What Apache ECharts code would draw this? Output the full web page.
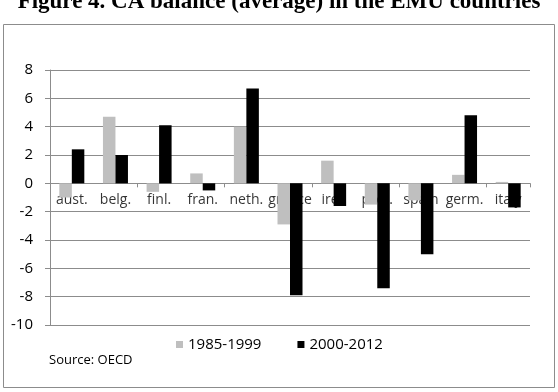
<!DOCTYPE html>
<html>
<head>
<meta charset="utf-8">
<script src="https://cdn.jsdelivr.net/npm/echarts@6/dist/echarts.min.js"></script>
<style>
  html, body { margin: 0; padding: 0; background: #fff; }
  #container { width: 558px; height: 392px; }
</style>
</head>
<body>
<div id="container"></div>
<script>
var countries = ['aust.', 'belg.', 'finl.', 'fran.', 'neth.', 'greece', 'irel.', 'port.', 'spain', 'germ.', 'italy'];
var early = [-1.0, 4.7, -0.6, 0.7, 4.0, -2.9, 1.6, -1.5, -1.2, 0.6, 0.1];
var late = [2.4, 2.0, 4.1, -0.5, 6.7, -7.9, -1.6, -7.4, -5.0, 4.8, -1.7];
var seriesNames = ['1985-1999', '2000-2012'];

var chartDom = document.getElementById('container');
var myChart = echarts.init(chartDom);

var labelFont = '"Open Sans", sans-serif';
var gridColor = '#8c8c8c';

// category labels sit on the zero line, under the bars
var zeroLine = countries.map(function () { return 0; });

var option = {
    animation: false,
    title: {
        text: 'Figure 4. CA balance (average) in the EMU countries',
        left: 'center',
        top: -14,
        textStyle: {
            fontFamily: '"Liberation Serif", serif',
            fontWeight: 'bold',
            fontSize: 23,
            color: '#000'
        }
    },
    graphic: [
        {
            type: 'rect',
            shape: { x: 3.5, y: 24.5, width: 551, height: 363 },
            style: { fill: 'none', stroke: gridColor, lineWidth: 1 },
            z: -1
        },
        {
            type: 'text',
            left: 49,
            top: 354,
            style: {
                text: 'Source: OECD',
                font: '13px ' + labelFont,
                fill: '#000'
            }
        }
    ],
    legend: {
        data: seriesNames,
        top: 332,
        left: 171,
        itemWidth: 7,
        itemHeight: 7,
        itemGap: 36,
        icon: 'rect',
        textStyle: {
            fontFamily: labelFont,
            fontSize: 15,
            color: '#000'
        }
    },
    grid: {
        left: 50,
        right: 28,
        top: 70,
        bottom: 67
    },
    xAxis: {
        type: 'category',
        data: countries,
        axisLine: {
            onZero: true,
            lineStyle: { color: gridColor }
        },
        axisTick: {
            show: true,
            length: 4,
            lineStyle: { color: gridColor }
        },
        axisLabel: { show: false }
    },
    yAxis: {
        type: 'value',
        min: -10,
        max: 8,
        interval: 2,
        axisLine: {
            show: true,
            lineStyle: { color: gridColor }
        },
        axisTick: {
            show: true,
            length: 5,
            lineStyle: { color: gridColor }
        },
        axisLabel: {
            margin: 17,
            fontFamily: labelFont,
            fontSize: 15,
            color: '#000'
        },
        splitLine: {
            lineStyle: { color: gridColor }
        }
    },
    series: [
        {
            name: 'labels',
            type: 'scatter',
            data: zeroLine,
            symbolSize: 0,
            z: 1,
            silent: true,
            label: {
                show: true,
                position: 'bottom',
                distance: 10,
                formatter: function (p) { return p.name; },
                fontFamily: labelFont,
                fontSize: 14,
                color: '#000'
            }
        },
        {
            name: seriesNames[0],
            type: 'bar',
            data: early,
            barWidth: 12.5,
            barGap: '0%',
            z: 3,
            itemStyle: { color: '#bfbfbf' }
        },
        {
            name: seriesNames[1],
            type: 'bar',
            data: late,
            barWidth: 12.5,
            barGap: '0%',
            z: 3,
            itemStyle: { color: '#000000' }
        }
    ]
};

option && myChart.setOption(option);
</script>
</body>
</html>
